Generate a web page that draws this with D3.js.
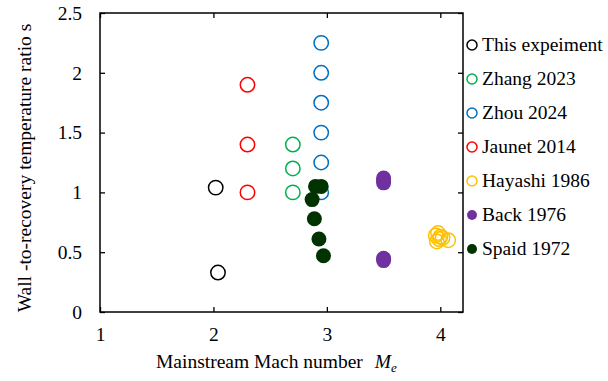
<!DOCTYPE html>
<html>
<head>
<meta charset="utf-8">
<script src="https://cdn.jsdelivr.net/npm/d3@7"></script>
<style>
  body { margin: 0; background: #fff; }
  svg text { font-family: "Liberation Serif", Tinos, "Nimbus Roman", "Times New Roman", "DejaVu Serif", serif; }
</style>
</head>
<body>
<div class="container"></div>
<script>
const WIDTH = 608
const HEIGHT = 381

// series data: [Mach number, temperature ratio]
const thisExperiment = [[2.02, 1.04], [2.04, 0.33]]
const zhang2023 = [[2.70, 1.40], [2.70, 1.20], [2.70, 1.00]]
const zhou2024 = [[2.95, 2.25], [2.95, 2.00], [2.95, 1.75], [2.95, 1.50], [2.95, 1.25], [2.95, 1.00]]
const jaunet2014 = [[2.30, 1.90], [2.30, 1.40], [2.30, 1.00]]
const hayashi1986 = [[3.96, 0.64], [3.98, 0.66], [3.99, 0.61], [3.97, 0.59], [4.00, 0.63], [4.02, 0.62], [4.07, 0.60]]
const back1976 = [[3.50, 1.12], [3.50, 1.10], [3.50, 1.08], [3.50, 0.45], [3.50, 0.43]]
const spaid1972 = [[2.90, 1.05], [2.95, 1.05], [2.87, 0.94], [2.89, 0.78], [2.93, 0.61], [2.97, 0.47]]

const seriesNames = ['This expeiment', 'Zhang 2023', 'Zhou 2024', 'Jaunet 2014', 'Hayashi 1986', 'Back 1976', 'Spaid 1972']
const seriesData = [thisExperiment, zhang2023, zhou2024, jaunet2014, hayashi1986, back1976, spaid1972]
const seriesColors = ['#000000', '#00b050', '#0070c0', '#ff0000', '#ffc000', '#7030a0', '#003300']
const seriesFilled = [false, false, false, false, false, true, true]

const xTicks = [1, 2, 3, 4]
const yTicks = [0, 0.5, 1, 1.5, 2, 2.5]

const margin = { top: 13, right: 145, bottom: 69, left: 100 }

const x = d3.scaleLinear().domain([1, 4.2]).range([margin.left, WIDTH - margin.right])
const y = d3.scaleLinear().domain([0, 2.5]).range([HEIGHT - margin.bottom, margin.top])

const svg = d3.select('.container').append('svg')
    .attr('width', WIDTH)
    .attr('height', HEIGHT)
    .attr('viewBox', `0 0 ${WIDTH} ${HEIGHT}`)

// axes with inside ticks
const fmt = d => d3.format('')(d)

svg.append('g')
    .attr('transform', `translate(0,${y(0)})`)
    .call(d3.axisBottom(x).tickValues(xTicks).tickFormat(fmt).tickSizeInner(-5).tickSizeOuter(0).tickPadding(15))
    .call(g => g.select('.domain').remove())

svg.append('g')
    .attr('transform', `translate(${x(1)},0)`)
    .call(d3.axisLeft(y).tickValues(yTicks).tickFormat(fmt).tickSizeInner(-5).tickSizeOuter(0).tickPadding(18))
    .call(g => g.select('.domain').remove())

svg.append('g')
    .attr('transform', `translate(0,${y(2.5)})`)
    .call(d3.axisTop(x).tickValues(xTicks).tickSizeInner(-5).tickSizeOuter(0).tickFormat(''))
    .call(g => g.select('.domain').remove())

svg.append('g')
    .attr('transform', `translate(${x(4.2)},0)`)
    .call(d3.axisRight(y).tickValues(yTicks).tickSizeInner(-5).tickSizeOuter(0).tickFormat(''))
    .call(g => g.select('.domain').remove())

svg.selectAll('.tick line').attr('stroke', '#000').attr('stroke-width', 1.3)
svg.selectAll('.tick text')
    .attr('font-size', 19.5)
    .attr('fill', '#000')

// frame
svg.append('rect')
    .attr('x', x(1))
    .attr('y', y(2.5))
    .attr('width', x(4.2) - x(1))
    .attr('height', y(0) - y(2.5))
    .attr('fill', 'none')
    .attr('stroke', '#000')
    .attr('stroke-width', 1.5)

// points
seriesData.forEach((data, i) => {
    svg.append('g')
        .selectAll('circle')
        .data(data)
        .join('circle')
        .attr('cx', d => x(d[0]))
        .attr('cy', d => y(d[1]))
        .attr('r', seriesFilled[i] ? 7.5 : 7.2)
        .attr('fill', seriesFilled[i] ? seriesColors[i] : 'none')
        .attr('stroke', seriesFilled[i] ? 'none' : seriesColors[i])
        .attr('stroke-width', 1.5)
})

// legend
const legend = svg.append('g')
    .selectAll('g')
    .data(seriesNames)
    .join('g')
    .attr('transform', (d, i) => `translate(472,${45 + i * 34})`)

legend.append('circle')
    .attr('r', 5)
    .attr('fill', (d, i) => seriesFilled[i] ? seriesColors[i] : 'none')
    .attr('stroke', (d, i) => seriesFilled[i] ? 'none' : seriesColors[i])
    .attr('stroke-width', 1.5)

legend.append('text')
    .attr('x', 10)
    .attr('dy', '0.33em')
    .attr('font-size', 19.5)
    .text(d => d)

// axis titles
const xTitle = svg.append('text')
    .attr('x', 156)
    .attr('y', 368)
    .attr('font-size', 19.5)
xTitle.append('tspan').text('Mainstream Mach number')
xTitle.append('tspan').attr('dx', 12).attr('font-style', 'italic').text('M')
xTitle.append('tspan').attr('font-style', 'italic').attr('font-size', 13).attr('dy', 4).text('e')

svg.append('text')
    .attr('transform', `translate(31,168) rotate(-90)`)
    .attr('text-anchor', 'middle')
    .attr('font-size', 19.5)
    .text('Wall -to-recovery temperature ratio s')
</script>
</body>
</html>
